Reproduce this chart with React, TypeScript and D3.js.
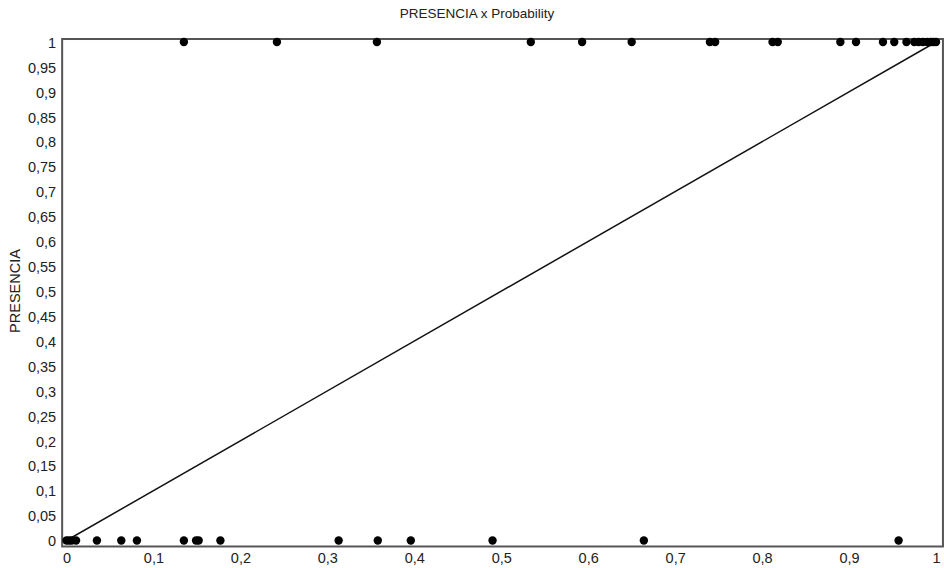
import React, { useEffect, useRef } from "react";
import * as d3 from "d3";

// probability values of observations with PRESENCIA = 1
const presentX = [
  0.135, 0.242, 0.357, 0.534, 0.593, 0.65, 0.74, 0.746, 0.812, 0.818, 0.89,
  0.908, 0.939, 0.952, 0.966, 0.975, 0.98, 0.985, 0.99, 0.994, 0.997, 1.0,
];
// probability values of observations with PRESENCIA = 0
const absentX = [
  0.0, 0.003, 0.006, 0.011, 0.035, 0.063, 0.081, 0.135, 0.149, 0.152, 0.177,
  0.313, 0.358, 0.396, 0.49, 0.664, 0.957,
];
const xTicks = [0, 0.1, 0.2, 0.3, 0.4, 0.5, 0.6, 0.7, 0.8, 0.9, 1];
const yTicks = d3.range(0, 21).map((i) => i * 0.05);
const diagonal = [0, 1];

const fmt = (v: number) => {
  const s = String(+v.toFixed(2));
  return s.replace(".", ",");
};

const App = () => {
  const svgRef = useRef<SVGSVGElement>(null);

  useEffect(() => {
    const w = 944;
    const h = 568;
    const svg = d3.select(svgRef.current).attr("width", w).attr("height", h);
    svg.selectAll("*").remove();

    const x = d3.scaleLinear().domain([0, 1]).range([66.5, 936]);
    const y = d3.scaleLinear().domain([0, 1]).range([540.5, 42]);
    const left = x(-0.005);
    const right = x(1.008);
    const top = y(1.006);
    const bottom = y(-0.012);

    const font = "'Liberation Sans', Arial, sans-serif";

    svg
      .append("text")
      .attr("x", 477)
      .attr("y", 18)
      .attr("text-anchor", "middle")
      .attr("font-family", font)
      .attr("font-size", 13.5)
      .attr("fill", "#222")
      .text("PRESENCIA x Probability");

    svg
      .append("text")
      .attr("transform", `translate(20,${291}) rotate(-90)`)
      .attr("text-anchor", "middle")
      .attr("font-family", font)
      .attr("font-size", 14.5)
      .attr("fill", "#222")
      .text("PRESENCIA");

    const xAxis = d3.axisBottom(x).tickValues(xTicks).tickSize(0).tickPadding(6).tickFormat((d) => fmt(+d));
    const yAxis = d3.axisLeft(y).tickValues(yTicks).tickSize(0).tickPadding(6).tickFormat((d) => fmt(+d));

    const gx = svg.append("g").attr("transform", `translate(0,${bottom})`).call(xAxis);
    const gy = svg.append("g").attr("transform", `translate(${left},0)`).call(yAxis);
    [gx, gy].forEach((g) => {
      g.select(".domain").remove();
      g.selectAll("text")
        .attr("font-family", font)
        .attr("font-size", 14.5)
        .attr("fill", "#222");
    });
    gy.selectAll("text").attr("dy", "0.36em");

    svg
      .append("rect")
      .attr("x", left)
      .attr("y", top)
      .attr("width", right - left)
      .attr("height", bottom - top)
      .attr("fill", "none")
      .attr("stroke", "#555")
      .attr("stroke-width", 2);

    const line = d3
      .line<number>()
      .x((d) => x(d))
      .y((d) => y(d));
    svg
      .append("path")
      .datum(diagonal)
      .attr("d", line)
      .attr("fill", "none")
      .attr("stroke", "#111")
      .attr("stroke-width", 1.5);

    svg
      .append("g")
      .selectAll("circle")
      .data(presentX)
      .join("circle")
      .attr("cx", (d) => x(d))
      .attr("cy", y(1))
      .attr("r", 4.2)
      .attr("fill", "#000");

    svg
      .append("g")
      .selectAll("circle")
      .data(absentX)
      .join("circle")
      .attr("cx", (d) => x(d))
      .attr("cy", y(0))
      .attr("r", 4.2)
      .attr("fill", "#000");
  }, []);

  return <svg ref={svgRef} style={{ position: "absolute", left: 0, top: 0 }}></svg>;
};

export default App;
